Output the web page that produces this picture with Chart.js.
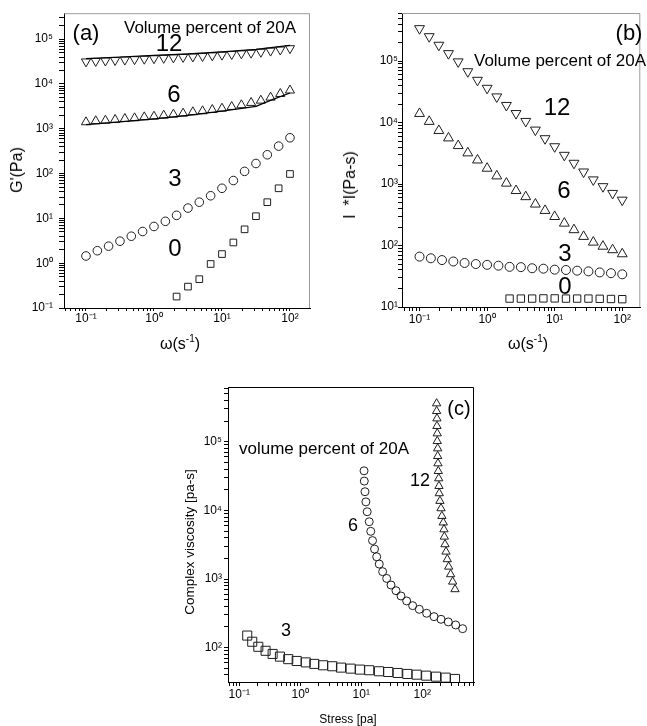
<!DOCTYPE html>
<html lang="en">
<head>
  <meta charset="UTF-8" />
  <title>Rheology of 20A composites</title>
  <style>
    body { margin: 0; background: #fff; font-family: "Liberation Sans", Arial, sans-serif; }
    #wrap { position: relative; width: 647px; height: 726px; overflow: hidden; }
    canvas { position: absolute; }
    #chartA { left: 0; top: 0; }
    #chartB { left: 325px; top: 0; }
    #chartC { left: 150px; top: 365px; }
    .lbl { position: absolute; transform: translate(-50%, -50%); white-space: nowrap; color: #000; line-height: 1; }
    .rot { transform: translate(-50%, -50%) rotate(-90deg); }
  </style>
</head>
<body>
  <div id="wrap">
    <canvas id="chartA" width="322" height="360"></canvas>
    <canvas id="chartB" width="322" height="360"></canvas>
    <canvas id="chartC" width="340" height="361"></canvas>

    <div class="lbl" style="left:86px;top:33px;font-size:22px">(a)</div>
    <div class="lbl" style="left:210px;top:27px;font-size:17px">Volume percent of 20A</div>
    <div class="lbl" style="left:169px;top:43px;font-size:24px">12</div>
    <div class="lbl" style="left:174px;top:94px;font-size:24px">6</div>
    <div class="lbl" style="left:175px;top:178px;font-size:24px">3</div>
    <div class="lbl" style="left:175px;top:248px;font-size:24px">0</div>
    <div class="lbl rot" style="left:17px;top:170px;font-size:16px">G'(Pa)</div>
    <div class="lbl" style="left:180px;top:343px;font-size:16px">ω(s<sup style="font-size:10px">-1</sup>)</div>

    <div class="lbl" style="left:629px;top:33px;font-size:22px">(b)</div>
    <div class="lbl" style="left:560px;top:60px;font-size:17px">Volume percent of 20A</div>
    <div class="lbl" style="left:557px;top:107px;font-size:24px">12</div>
    <div class="lbl" style="left:564px;top:190px;font-size:24px">6</div>
    <div class="lbl" style="left:565px;top:253px;font-size:24px">3</div>
    <div class="lbl" style="left:565px;top:286px;font-size:24px">0</div>
    <div class="lbl rot" style="left:350px;top:185px;font-size:16px">I&nbsp; *I(Pa-s)</div>
    <div class="lbl" style="left:528px;top:343px;font-size:16px">ω(s<sup style="font-size:10px">-1</sup>)</div>

    <div class="lbl" style="left:459px;top:408px;font-size:20px">(c)</div>
    <div class="lbl" style="left:324px;top:448px;font-size:17px">volume percent of 20A</div>
    <div class="lbl" style="left:420px;top:480px;font-size:18px">12</div>
    <div class="lbl" style="left:353px;top:525px;font-size:18px">6</div>
    <div class="lbl" style="left:286px;top:630px;font-size:18px">3</div>
    <div class="lbl rot" style="left:190px;top:542px;font-size:13.5px">Complex viscosity [pa-s]</div>
    <div class="lbl" style="left:348px;top:719px;font-size:12px">Stress [pa]</div>
  </div>

  <script src="https://cdn.jsdelivr.net/npm/chart.js"></script>
  <script>
    // frequencies (s^-1)
    const omegaTri = [0.1, 0.139, 0.193, 0.268, 0.373, 0.518, 0.72, 1, 1.39, 1.93, 2.68, 3.73, 5.18, 7.2, 10, 13.9, 19.3, 26.8, 37.3, 51.8, 72, 100];
    const omegaCirc = [0.1, 0.147, 0.215, 0.316, 0.464, 0.681, 1, 1.47, 2.15, 3.16, 4.64, 6.81, 10, 14.7, 21.5, 31.6, 46.4, 68.1, 100];
    const omegaSq = [2.15, 3.16, 4.64, 6.81, 10, 14.7, 21.5, 31.6, 46.4, 68.1, 100];

    // (a) G' (Pa)
    const gA12 = [31600, 32400, 33100, 33900, 34700, 35500, 36300, 37200, 38000, 38900, 39800, 40700, 41700, 43200, 44700, 46200, 47900, 49500, 51900, 55000, 58200, 62400];
    const gA6 = [1410, 1490, 1530, 1590, 1670, 1730, 1820, 1880, 1980, 2090, 2200, 2360, 2480, 2650, 2840, 3100, 3380, 3810, 4280, 5000, 6040, 7200];
    const gA3 = [1.45, 1.9, 2.4, 3.1, 4.0, 5.1, 6.6, 8.6, 11.7, 17, 23, 32, 47, 70, 112, 168, 263, 410, 630];
    const gA0 = [0.18, 0.30, 0.44, 0.96, 1.6, 2.9, 5.7, 11.2, 23, 47, 98];
    const fitA12X = [0.1, 0.316, 1, 3.16, 10, 31.6, 100];
    const fitA12 = [36900, 40000, 43400, 47000, 52100, 59200, 72800];
    const fitA6X = [0.1, 0.316, 1, 3.16, 10, 31.6, 56.2, 100];
    const fitA6 = [1240, 1430, 1660, 2000, 2480, 3160, 4520, 6310];

    // (b) |eta*| (Pa-s)
    const etaB12 = [339000, 251000, 182000, 133000, 97700, 67600, 49000, 36300, 26300, 19100, 14100, 10500, 7590, 5500, 4070, 2950, 2190, 1580, 1175, 912, 708, 550];
    const etaB6 = [14000, 10400, 7400, 5600, 4200, 3200, 2450, 1800, 1350, 1030, 780, 620, 470, 370, 295, 230, 180, 140, 113, 97, 85, 73];
    const etaB3 = [66, 62, 58, 55, 52, 50, 48.5, 47, 45, 44.5, 42.7, 42, 40.5, 40, 39, 38, 36.5, 35.5, 34];
    const etaB0 = [13.7, 13.7, 13.7, 13.8, 13.8, 13.7, 13.7, 13.7, 13.6, 13.5, 13.4];

    // (c) complex viscosity vs stress
    const stressC3 = [0.135, 0.163, 0.205, 0.27, 0.352, 0.464, 0.635, 0.873, 1.23, 1.70, 2.36, 3.35, 4.65, 6.7, 9.5, 13.5, 19.5, 27.7, 39.5, 56.8, 80.9, 116, 168, 242, 344];
    const etaC3 = [150, 122, 103, 90, 81, 74, 68, 64, 61, 58, 55.4, 53.6, 51.2, 49.5, 47.9, 46.9, 45.3, 44.2, 42.8, 41.4, 40.4, 39.1, 37.8, 36.6, 35];
    const stressC6 = [11.1, 11.2, 11.5, 11.9, 12.5, 13.5, 14.3, 15.3, 16.5, 17.9, 19.7, 22.4, 26.1, 30.7, 37.1, 44.8, 55.5, 69.6, 89.3, 118, 156, 203, 267, 353, 459];
    const etaC6 = [37700, 26700, 18700, 13300, 9550, 6830, 4950, 3630, 2730, 2110, 1650, 1280, 1020, 818, 676, 566, 479, 409, 362, 317, 283, 259, 237, 214, 189];
    const stressC12 = [172, 172, 174, 174, 176, 176, 179, 179, 181, 183, 186, 188, 190, 195, 203, 210, 221, 227, 230, 236, 245, 257, 271, 292, 315, 344];
    const etaC12 = [361000, 279000, 218000, 169000, 132000, 102000, 79800, 61700, 48300, 37300, 29200, 22600, 17700, 13700, 10700, 8260, 6640, 5280, 4130, 3200, 2500, 1940, 1510, 1170, 914, 708];

    const SUP = { '-': '⁻', '0': '⁰', '1': '¹', '2': '²', '3': '³', '4': '⁴', '5': '⁵', '6': '⁶', '7': '⁷', '8': '⁸', '9': '⁹' };
    const FONT = '"Liberation Sans", Arial, sans-serif';
    Chart.defaults.color = '#000';

    function pts(xs, ys) {
      return xs.map((x, i) => ({ x: x, y: ys[i] }));
    }

    function markers(xs, ys, style, r, rot) {
      return {
        data: pts(xs, ys), showLine: false,
        pointStyle: style, pointRadius: r, pointRotation: rot || 0,
        pointBorderColor: '#1e1e1e', pointBackgroundColor: 'rgba(0,0,0,0)', pointBorderWidth: 1
      };
    }

    function fitLine(xs, ys) {
      return { data: pts(xs, ys), showLine: true, pointRadius: 0, borderColor: '#000', borderWidth: 1.2 };
    }

    // 1..9 x 10^n ticks, labels only on the decades
    function decadeTicks(scale) {
      const ticks = [];
      const lo = Math.floor(Math.log10(scale.min));
      const hi = Math.ceil(Math.log10(scale.max));
      for (let e = lo; e <= hi; e++) {
        for (let m = 1; m < 10; m++) {
          const v = m * Math.pow(10, e);
          if (v >= scale.min * 0.9999 && v <= scale.max * 1.0001) ticks.push({ value: v, major: m === 1 });
        }
      }
      scale.ticks = ticks;
    }

    function decadeLabel(v) {
      const e = Math.round(Math.log10(v));
      if (Math.abs(v / Math.pow(10, e) - 1) > 1e-6) return '';
      return '10' + String(e).split('').map(c => SUP[c]).join('');
    }

    function logAxis(min, max, tickLen, pad, fit) {
      return {
        type: 'logarithmic', min: min, max: max,
        afterBuildTicks: decadeTicks,
        afterFit: fit,
        grid: { drawOnChartArea: false, tickLength: tickLen, tickColor: '#000', tickWidth: 1 },
        border: { color: '#000', width: 1 },
        ticks: { autoSkip: false, maxRotation: 0, minRotation: 0, padding: pad, font: { family: FONT, size: 12 }, callback: decadeLabel }
      };
    }

    const framePlugin = {
      id: 'frame',
      afterDatasetsDraw(chart, args, opts) {
        const { ctx, chartArea: a } = chart;
        ctx.save();
        ctx.strokeStyle = opts.color;
        ctx.lineWidth = 1;
        ctx.beginPath();
        ctx.moveTo(a.left, a.top + 0.5);
        ctx.lineTo(a.right - 0.5, a.top + 0.5);
        ctx.lineTo(a.right - 0.5, a.bottom);
        ctx.stroke();
        ctx.restore();
      }
    };

    function makePanel(id, p) {
      return new Chart(document.getElementById(id), {
        type: 'scatter',
        data: { datasets: p.datasets },
        options: {
          responsive: false,
          animation: false,
          layout: { padding: { top: p.top, right: p.right, left: 0, bottom: 0 } },
          plugins: { legend: { display: false }, tooltip: { enabled: false }, frame: { color: p.frame } },
          scales: {
            x: logAxis(p.xMin, p.xMax, p.xTick, p.xPad, s => { s.height = p.xHeight; }),
            y: logAxis(p.yMin, p.yMax, p.yTick, p.yPad, s => { s.width = p.yWidth; })
          }
        },
        plugins: [framePlugin]
      });
    }

    makePanel('chartA', {
      top: 13, right: 12, yWidth: 64, xHeight: 52, frame: '#9a9a9a',
      xMin: 0.0475, xMax: 197, yMin: 0.1, yMax: 380000,
      xTick: 3, xPad: 0, yTick: 5, yPad: 6,
      datasets: [
        fitLine(fitA12X, fitA12),
        fitLine(fitA6X, fitA6),
        markers(omegaTri, gA12, 'triangle', 5.3, 180),
        markers(omegaTri, gA6, 'triangle', 5.3, 0),
        markers(omegaCirc, gA3, 'circle', 4.3),
        markers(omegaSq, gA0, 'rect', 4.7)
      ]
    });

    makePanel('chartB', {
      top: 13, right: 1, yWidth: 77, xHeight: 53, frame: '#9a9a9a',
      xMin: 0.055, xMax: 185, yMin: 10, yMax: 606000,
      xTick: 4, xPad: 1, yTick: 4, yPad: 0,
      datasets: [
        markers(omegaTri, etaB12, 'triangle', 5.7, 180),
        markers(omegaTri, etaB6, 'triangle', 5.7, 0),
        markers(omegaCirc, etaB3, 'circle', 4.5),
        markers(omegaSq, etaB0, 'rect', 5.2)
      ]
    });

    makePanel('chartC', {
      top: 22, right: 16, yWidth: 78, xHeight: 44, frame: '#000',
      xMin: 0.0653, xMax: 705, yMin: 31.6, yMax: 627000,
      xTick: 4, xPad: 1, yTick: 4, yPad: 2,
      datasets: [
        markers(stressC3, etaC3, 'rect', 6.4),
        markers(stressC6, etaC6, 'circle', 4),
        markers(stressC12, etaC12, 'triangle', 4.8, 0)
      ]
    });
  </script>
</body>
</html>
